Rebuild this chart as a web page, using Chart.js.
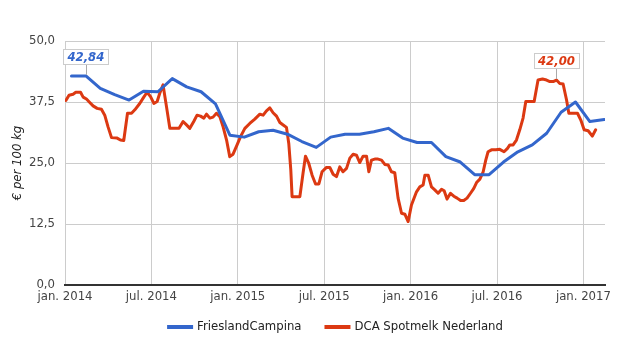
<!DOCTYPE html>
<html>
<head>
<meta charset="utf-8">
<script src="https://cdn.jsdelivr.net/npm/chart.js@4.4.1/dist/chart.umd.min.js"></script>
<style>
  html, body { margin: 0; padding: 0; background: #fff; }
</style>
</head>
<body>
<canvas id="chart" width="625" height="350"></canvas>
<script>
// ---- data ----
// x axis is in months since jan. 2014
const xTickValues = [0, 6, 12, 18, 24, 30, 36]
const xTickLabels = ["jan. 2014", "jul. 2014", "jan. 2015", "jul. 2015", "jan. 2016", "jul. 2016", "jan. 2017"]
const yTickValues = [0, 12.5, 25, 37.5, 50]
const yTitle = "€ per 100 kg"
const seriesNames = ["FrieslandCampina", "DCA Spotmelk Nederland"]

// FrieslandCampina, monthly (jan. 2014 - feb. 2017)
const campinaValues = [
  42.84, 42.84, 40.3, 39.0, 37.9, 39.7, 39.6, 42.3, 40.6, 39.6, 37.1, 30.7,
  30.3, 31.4, 31.7, 30.9, 29.4, 28.2, 30.3, 30.9, 30.9, 31.4, 32.1, 30.1,
  29.2, 29.2, 26.3, 25.2, 22.6, 22.6, 25.2, 27.3, 28.7, 31.1, 35.4, 37.5,
  33.5, 33.9
]

// DCA spot milk, weekly quotes (position in months, value)
const spotMonths = [
  0.06, 0.28, 0.56, 0.75, 1.08, 1.26, 1.49, 1.72, 1.95, 2.23, 2.53, 2.76, 2.99, 3.23, 3.62, 3.85, 4.08,
  4.34, 4.62, 4.85, 5.19, 5.47, 5.70, 5.94, 6.17, 6.40, 6.58, 6.81, 7.05, 7.28, 7.62, 7.92, 8.20, 8.44,
  8.67, 8.94, 9.17, 9.41, 9.64, 9.83, 10.06, 10.28, 10.52, 10.75, 10.98, 11.22, 11.44, 11.67, 11.95,
  12.19, 12.49, 12.83, 13.18, 13.53, 13.76, 13.99, 14.22, 14.45, 14.69, 14.92, 15.15, 15.38, 15.54,
  15.68, 15.77, 16.08, 16.31, 16.53, 16.70, 16.93, 17.16, 17.40, 17.63, 17.85, 18.16, 18.39, 18.62,
  18.85, 19.08, 19.31, 19.55, 19.78, 20.01, 20.24, 20.47, 20.70, 20.94, 21.10, 21.28, 21.51, 21.74,
  21.98, 22.21, 22.44, 22.67, 22.90, 23.13, 23.37, 23.60, 23.83, 24.06, 24.41, 24.64, 24.87, 24.99,
  25.22, 25.45, 25.68, 25.91, 26.15, 26.33, 26.53, 26.77, 27.00, 27.23, 27.47, 27.69, 27.92, 28.16,
  28.39, 28.58, 28.81, 29.04, 29.22, 29.38, 29.62, 29.92, 30.19, 30.49, 30.73, 30.89, 31.12, 31.35,
  31.58, 31.81, 32.00, 32.28, 32.58, 32.85, 33.16, 33.44, 33.67, 33.90, 34.13, 34.36, 34.59, 34.83,
  34.99, 35.28, 35.59, 35.82, 36.05, 36.33, 36.62, 36.85
]
const spotValues = [
  37.8, 38.9, 39.1, 39.5, 39.5, 38.5, 38.1, 37.4, 36.7, 36.2, 36.0, 34.8, 32.4, 30.2, 30.1, 29.7, 29.6,
  35.2, 35.2, 35.9, 37.2, 38.5, 39.5, 38.6, 37.2, 37.6, 39.3, 41.0, 36.5, 32.1, 32.1, 32.1, 33.5, 32.8,
  32.1, 33.5, 34.8, 34.6, 34.2, 35.0, 34.2, 34.4, 35.2, 34.5, 32.4, 29.7, 26.3, 26.8, 28.7,
  30.4, 32.1, 33.1, 34.0, 35.0, 34.8, 35.7, 36.3, 35.3, 34.6, 33.3, 32.8, 32.3, 29.0,
  23.6, 18.1, 18.1, 18.1, 22.9, 26.4, 24.9, 22.5, 20.7, 20.7, 23.2, 24.1, 24.1, 22.7,
  22.2, 24.2, 23.2, 23.9, 26.0, 26.8, 26.6, 25.1, 26.4, 26.4, 23.2, 25.6, 25.8, 25.8,
  25.6, 24.7, 24.6, 23.2, 23.0, 17.8, 14.7, 14.5, 13.0, 16.4, 19.1, 20.1, 20.5, 22.5,
  22.5, 20.1, 19.5, 18.8, 19.6, 19.3, 17.6, 18.8, 18.2, 17.8, 17.3, 17.3, 17.8, 18.8,
  19.8, 21.0, 21.7, 23.2, 25.6, 27.3, 27.7, 27.7, 27.8, 27.3, 28.0, 28.7, 28.7, 29.7,
  31.8, 34.2, 37.6, 37.6, 37.6, 42.0, 42.2, 42.0, 41.7, 41.7, 42.0, 41.3, 41.2, 37.9,
  35.2, 35.2, 35.2, 33.8, 31.8, 31.6, 30.5, 31.8
]

// labelled points: [series, index]
const callouts = [[0, 1], [1, 143]]

// ---- chart ----
const COLORS = ["#3366cc", "#dc3912"]
const FONT = '"DejaVu Sans Condensed", "DejaVu Sans", sans-serif'

const campinaData = campinaValues.map((v, i) => ({ x: i + 0.45, y: v }))
const spotData = spotValues.map((v, i) => ({ x: spotMonths[i], y: v }))

const fmt = (v, d) => v.toFixed(d).replace(".", ",")

const overlay = {
  id: "overlay",
  afterDatasetsDraw(chart) {
    const { ctx, chartArea, scales } = chart

    // axis title
    ctx.save()
    ctx.translate(18, (chartArea.top + chartArea.bottom) / 2)
    ctx.rotate(-Math.PI / 2)
    ctx.font = "italic 13px " + FONT
    ctx.fillStyle = "#222"
    ctx.textAlign = "center"
    ctx.textBaseline = "middle"
    ctx.fillText(yTitle, 0, 0)
    ctx.restore()

    // value callouts
    callouts.forEach(([s, i]) => {
      const pt = chart.data.datasets[s].data[i]
      const px = scales.x.getPixelForValue(pt.x)
      const py = scales.y.getPixelForValue(pt.y)
      const text = fmt(pt.y, 2)
      ctx.save()
      ctx.font = "italic bold 13px " + FONT
      const w = ctx.measureText(text).width + 8
      const h = 15
      const bx = Math.round(px - w / 2) + 0.5
      const by = Math.round(py - 12 - h) + 0.5
      ctx.strokeStyle = "#aaa"
      ctx.lineWidth = 1
      ctx.beginPath()
      ctx.moveTo(Math.round(px) + 0.5, by + h)
      ctx.lineTo(Math.round(px) + 0.5, py - 1)
      ctx.stroke()
      ctx.fillStyle = "#fff"
      ctx.fillRect(bx, by, w, h)
      ctx.strokeStyle = "#ccc"
      ctx.strokeRect(bx, by, w, h)
      ctx.fillStyle = COLORS[s]
      ctx.textAlign = "center"
      ctx.textBaseline = "middle"
      ctx.fillText(text, px, by + h / 2 + 1)
      ctx.restore()
    })
  },
  afterDraw(chart) {
    // legend
    const { ctx, chartArea } = chart
    ctx.save()
    ctx.font = "13px " + FONT
    const lineW = 26, gapText = 4, gapItem = 23
    const widths = seriesNames.map(n => lineW + gapText + ctx.measureText(n).width)
    const total = widths.reduce((a, b) => a + b, 0) + gapItem * (widths.length - 1)
    let x = (chartArea.left + chartArea.right) / 2 - total / 2
    const y = 327
    seriesNames.forEach((n, i) => {
      ctx.strokeStyle = COLORS[i]
      ctx.lineWidth = 4
      ctx.beginPath()
      ctx.moveTo(x, y)
      ctx.lineTo(x + lineW, y)
      ctx.stroke()
      ctx.fillStyle = "#222"
      ctx.textBaseline = "middle"
      ctx.fillText(n, x + lineW + gapText, y)
      x += widths[i] + gapItem
    })
    ctx.restore()
  }
}

new Chart(document.getElementById("chart"), {
  type: "line",
  data: {
    datasets: [
      { label: seriesNames[0], data: campinaData, borderColor: COLORS[0], backgroundColor: COLORS[0], borderWidth: 3 },
      { label: seriesNames[1], data: spotData, borderColor: COLORS[1], backgroundColor: COLORS[1], borderWidth: 3 },
    ],
  },
  options: {
    responsive: false,
    animation: false,
    devicePixelRatio: 1,
    layout: { padding: { top: 41, right: 20, bottom: 35, left: 0 } },
    elements: {
      point: { radius: 0, hoverRadius: 0 },
      line: { tension: 0, borderJoinStyle: "round", borderCapStyle: "round" },
    },
    plugins: { legend: { display: false }, tooltip: { enabled: false } },
    scales: {
      x: {
        type: "linear",
        min: 0,
        max: 37.5,
        afterBuildTicks: (scale) => { scale.ticks = xTickValues.map(v => ({ value: v })) },
        afterFit: (scale) => { scale.height = 30 },
        ticks: {
          padding: 4,
          maxRotation: 0,
          autoSkip: false,
          color: "#444",
          font: { family: FONT, size: 13 },
          callback: (v) => xTickLabels[xTickValues.indexOf(v)],
        },
        grid: { color: "#ccc", drawTicks: false },
        border: { color: "#333", width: 2 },
      },
      y: {
        min: 0,
        max: 50,
        afterBuildTicks: (scale) => { scale.ticks = yTickValues.map(v => ({ value: v })) },
        afterFit: (scale) => { scale.width = 65 },
        ticks: {
          padding: 10,
          color: "#444",
          font: { family: FONT, size: 13 },
          callback: (v) => fmt(v, 1),
        },
        grid: { color: "#ccc", drawTicks: false },
        border: { display: false },
      },
    },
  },
  plugins: [overlay],
})
</script>
</body>
</html>
